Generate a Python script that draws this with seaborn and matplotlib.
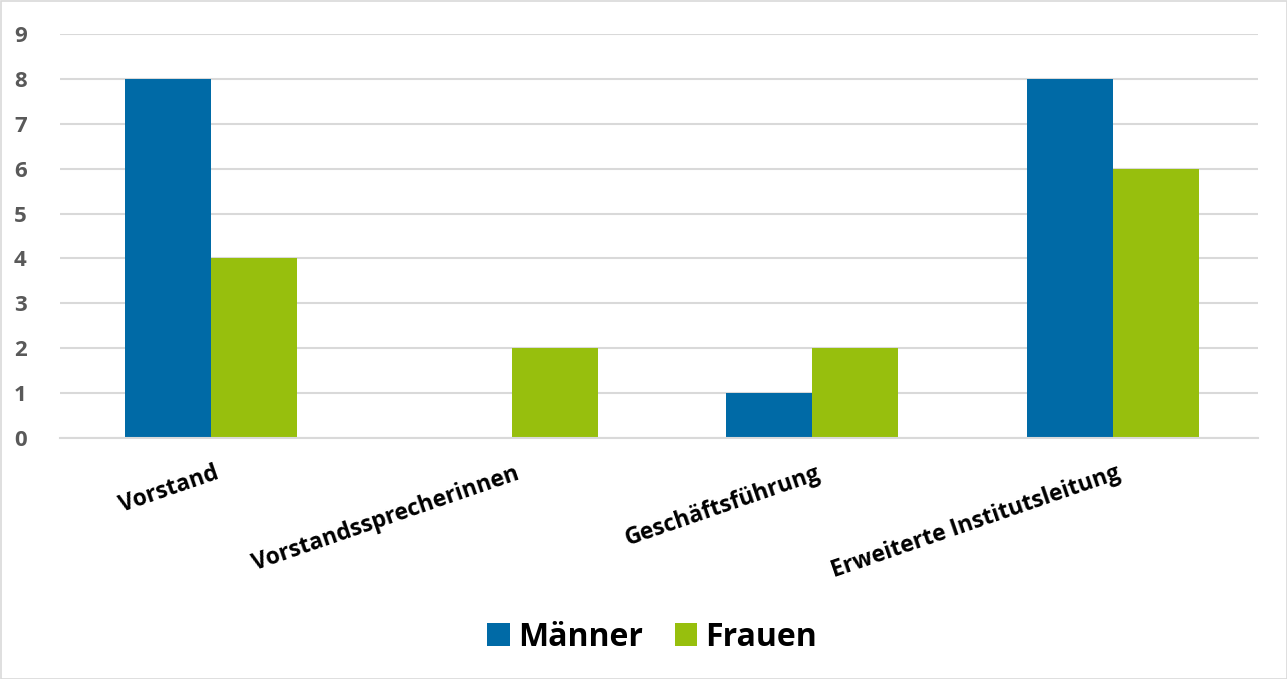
import matplotlib
matplotlib.use("Agg")
import matplotlib.pyplot as plt
import seaborn as sns
import pandas as pd
from matplotlib.patches import Patch, Rectangle

categories = ["Vorstand", "Vorstandssprecherinnen", "Geschäftsführung", "Erweiterte Institutsleitung"]
maenner = [8, 0, 1, 8]
frauen = [4, 2, 2, 6]
series_names = ["Männer", "Frauen"]
colors = ["#006AA6", "#97BF0D"]
yticks = list(range(0, 10))

df = pd.DataFrame({
    "Kategorie": categories * 2,
    "Wert": maenner + frauen,
    "Gruppe": [series_names[0]] * 4 + [series_names[1]] * 4,
})

sns.set_style("white")
plt.rcParams["font.family"] = ["Open Sans", "DejaVu Sans"]

fig = plt.figure(figsize=(12.87, 6.79), dpi=100)
ax = fig.add_axes([60 / 1287, 241 / 679, 1198 / 1287, 404 / 679])

sns.barplot(data=df, x="Kategorie", y="Wert", hue="Gruppe", palette=colors,
            width=0.572, gap=0, saturation=1, ax=ax, legend=False, errorbar=None,
            linewidth=0, edgecolor="none")

ax.set_xlim(-0.502, 3.482)
ax.set_ylim(0, 9)
ax.set_yticks(yticks)
ax.grid(axis="y", color="#D9D9D9", linewidth=1.5)
ax.set_axisbelow(True)
for s in ["top", "right", "left"]:
    ax.spines[s].set_visible(False)
ax.spines["bottom"].set_color("#D9D9D9")
ax.spines["bottom"].set_linewidth(1.5)
ax.set_xlabel("")
ax.set_ylabel("")
ax.tick_params(axis="y", length=0, pad=24, labelsize=16, labelcolor="#595959")
ax.tick_params(axis="x", length=0, pad=17)
for lab in ax.get_yticklabels():
    lab.set_fontweight("bold")
ax.set_xticks(range(len(categories)))
ax.set_xticklabels(categories, rotation=19, ha="right", rotation_mode="anchor",
                   fontsize=16.5, fontweight="bold", color="black")
for lab in ax.get_xticklabels():
    lab.set_transform(lab.get_transform() + matplotlib.transforms.ScaledTranslation(3 / 100, 0, fig.dpi_scale_trans))

handles = [Patch(facecolor=c, edgecolor="none", label=n) for c, n in zip(colors, series_names)]
leg = fig.legend(handles=handles, loc="center", bbox_to_anchor=(652 / 1287, 1 - 637 / 679),
                 ncol=2, frameon=False, prop={"size": 23, "weight": "bold"},
                 handlelength=0.7, handleheight=0.7, handletextpad=0.25, columnspacing=1.0)
for t in leg.get_texts():
    t.set_color("black")

fig.patches.append(Rectangle((0.5 / 1287, 0.5 / 679), 1 - 1 / 1287, 1 - 1 / 679,
                             transform=fig.transFigure, fill=False, edgecolor="#D9D9D9", linewidth=1.2))

fig.savefig("out.png", dpi=100)
